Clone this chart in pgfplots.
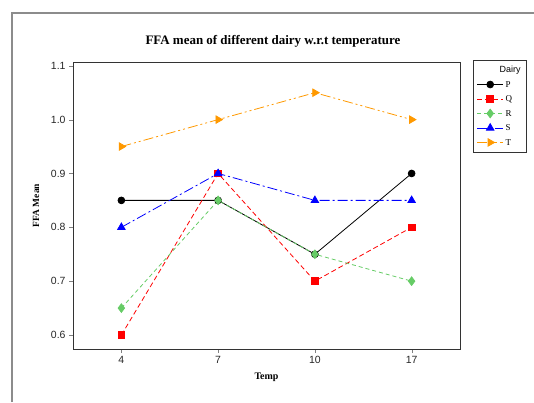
\documentclass[border=0pt]{standalone}
\usepackage{fontspec}
\setmainfont{Liberation Serif}
\setsansfont{Liberation Sans}
\usepackage{pgfplots}
\pgfplotsset{compat=1.18}
\definecolor{gR}{RGB}{102,204,102}
\definecolor{oT}{RGB}{255,153,0}
\begin{document}
\begin{tikzpicture}[x=1bp,y=1bp]
\useasboundingbox (0,0) rectangle (534,402);
\draw[gray!90, line width=1.5bp] (12,0) -- (12,389) -- (534,389);
\node[font=\bfseries\fontsize{13}{15}\selectfont] at (273,361) {FFA mean of different dairy w.r.t temperature};
\begin{axis}[
  at={(73bp,53bp)}, anchor=south west,
  width=387bp, height=287bp, scale only axis,
  xmin=-0.5, xmax=3.5, ymin=0.574, ymax=1.107,
  xtick={0,1,2,3}, xticklabels={4,7,10,17},
  ytick={0.6,0.7,0.8,0.9,1.0,1.1},
  yticklabel style={/pgf/number format/fixed, /pgf/number format/fixed zerofill, /pgf/number format/precision=1},
  /pgf/number format/assume math mode=true,
  tick label style={font=\sffamily\fontsize{10.5}{12}\selectfont, text=black!85},
  tick align=outside, tick pos=left,
  major tick length=4bp,
  axis line style={black!80, line width=0.8bp},
  xlabel={\bfseries Temp}, ylabel={\bfseries FFA Mean},
  xlabel style={font=\fontsize{10}{12}\selectfont, yshift=-2bp},
  ylabel style={font=\fontsize{9.5}{11}\selectfont, yshift=5bp},
  legend style={at={(1.0336,1.007)}, anchor=north west, draw=black!80, line width=0.6bp,
    font=\fontsize{9}{11}\selectfont, row sep=2bp, inner sep=1bp, inner xsep=3.5bp, inner ysep=3.5bp,
    legend cell align=left,
    nodes={text height=7bp, text depth=1.5bp, inner xsep=2bp},
    /tikz/every even column/.append style={column sep=0bp}},
  legend image code/.code={\draw[mark repeat=2,mark phase=2] plot coordinates {(0bp,0bp)(13bp,0bp)(26bp,0bp)};},
]
\addlegendimage{empty legend}
\addlegendentry{\hspace{-6bp}\sffamily Dairy}
\addplot[black, solid, line width=0.8bp, mark=*, mark size=3.4bp, mark options={solid}] coordinates {(0,0.85)(1,0.85)(2,0.75)(3,0.90)};
\addlegendentry{P}
\addplot[red, dash pattern=on 5bp off 3bp, line width=0.8bp, mark=square*, mark size=3.4bp, mark options={solid}] coordinates {(0,0.60)(1,0.90)(2,0.70)(3,0.80)};
\addlegendentry{Q}
\addplot[gR, dash pattern=on 4bp off 3bp, line width=0.8bp, mark=diamond*, mark size=4.3bp, mark options={solid}] coordinates {(0,0.65)(1,0.85)(2,0.75)(3,0.70)};
\addlegendentry{R}
\addplot[blue, dash pattern=on 10bp off 3bp on 2bp off 3bp, line width=0.8bp, mark=triangle*, mark size=4.3bp, mark options={solid}] coordinates {(0,0.80)(1,0.90)(2,0.85)(3,0.85)};
\addlegendentry{S}
\addplot[oT, dash pattern=on 10bp off 3bp on 2bp off 3bp on 2bp off 3bp, line width=0.8bp, mark=triangle*, mark size=4.3bp, mark options={solid, rotate=-90}] coordinates {(0,0.95)(1,1.00)(2,1.05)(3,1.00)};
\addlegendentry{T}
\end{axis}
\end{tikzpicture}
\end{document}
